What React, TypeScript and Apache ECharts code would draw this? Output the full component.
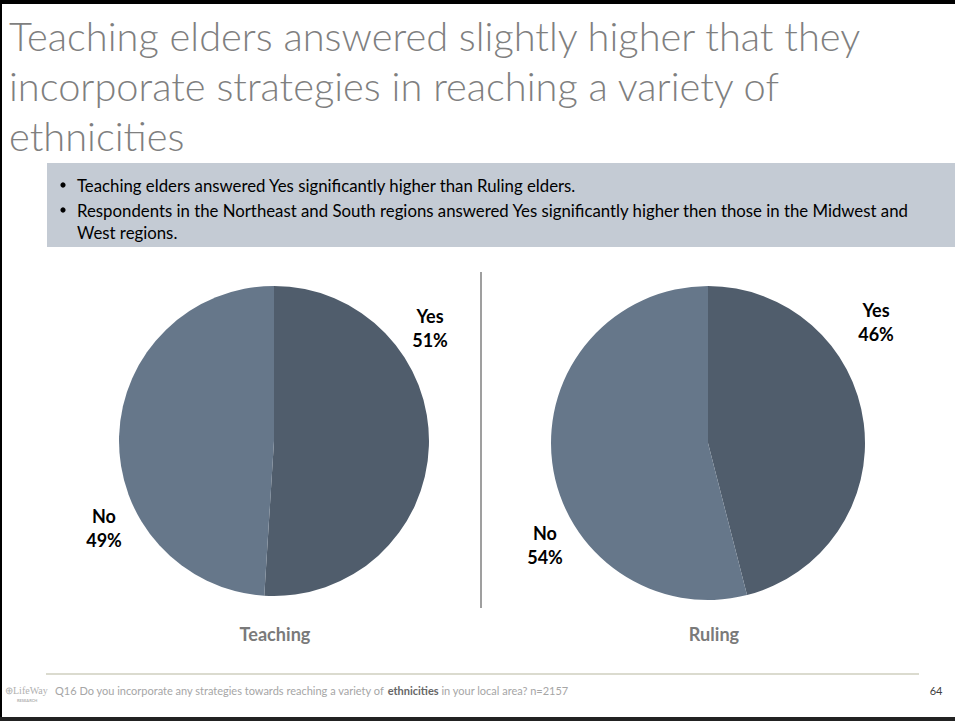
import React, { useEffect, useRef } from "react";
import * as echarts from "echarts";

const titleLines = [
  "Teaching elders answered slightly higher that they",
  "incorporate strategies in reaching a variety of",
  "ethnicities",
];
const bullets = [
  ["Teaching elders answered Yes significantly higher than Ruling elders."],
  [
    "Respondents in the Northeast and South regions answered Yes significantly higher then those in the Midwest and",
    "West regions.",
  ],
];
const answers = ["Yes", "No"];
const groups = ["Teaching", "Ruling"];
const teachingValues = [51, 49];
const rulingValues = [46, 54];
const footerBefore = "Q16 Do you incorporate any strategies towards reaching a variety of ";
const footerBold = "ethnicities";
const footerAfter = " in your local area? n=2157";
const pageNumber = "64";

const FONT = "Lato, 'Open Sans', sans-serif";
const sliceColors = ["#505d6c", "#66778a"];

// label placement (layout, not data)
const labelPos = [
  [
    [430, 328],
    [104, 528],
  ],
  [
    [876, 322],
    [545, 545],
  ],
];
const pieCenters = [
  [274, 441],
  [708, 443],
];
const pieRadii = [155, 157];

function fitSize(text: string, weight: string, target: number): number {
  const c = document.createElement("canvas").getContext("2d")!;
  c.font = `${weight} 100px ${FONT}`;
  const w = c.measureText(text).width;
  return Math.round((100 * target * 10) / w) / 10;
}

export default function App() {
  const ref = useRef<HTMLDivElement>(null);
  useEffect(() => {
    document.body.style.margin = "0";
    const chart = echarts.init(ref.current!, null, { renderer: "svg" });
    const valueSets = [teachingValues, rulingValues];
    const series = valueSets.map((vals, si) => ({
      type: "pie",
      center: pieCenters[si],
      radius: pieRadii[si],
      startAngle: 90,
      clockwise: true,
      silent: true,
      itemStyle: { borderWidth: 0 },
      data: answers.map((a, i) => ({
        name: a,
        value: vals[i],
        itemStyle: { color: sliceColors[i] },
      })),
      label: {
        show: true,
        position: "outside",
        formatter: "{b}\n{c}%",
        fontFamily: FONT,
        fontSize: 18,
        fontWeight: "bold",
        color: "#000",
        lineHeight: 24,
        align: "center",
        overflow: "none",
        width: 60,
      },
      labelLine: { show: false },
      labelLayout: (p: any) => ({
        x: labelPos[si][p.dataIndex][0],
        y: labelPos[si][p.dataIndex][1],
        align: "center",
        verticalAlign: "middle",
      }),
    }));

    const titleSize = Math.min(40, fitSize(titleLines[0], "300", 852));
    const bulletSize = Math.min(18.5, fitSize(bullets[1][0], "normal", 831));
    const footerSize = fitSize(footerBefore + footerBold + footerAfter, "normal", 513);
    const groupSize = Math.min(19, fitSize(groups[0], "bold", 71));

    const graphics: any[] = [];
    // borders
    graphics.push({ type: "rect", shape: { x: 0, y: 0, width: 955, height: 4 }, style: { fill: "#000" } });
    graphics.push({ type: "rect", shape: { x: 0, y: 0, width: 2, height: 721 }, style: { fill: "#000" } });
    graphics.push({ type: "rect", shape: { x: 0, y: 717, width: 955, height: 4 }, style: { fill: "#222" } });
    // title
    titleLines.forEach((t, i) => {
      graphics.push({
        type: "text",
        x: 9,
        y: 35 + i * 50,
        style: {
          text: t,
          font: `300 ${titleSize}px ${FONT}`,
          fill: "#7f7f7f",
          verticalAlign: "middle",
        },
      });
    });
    // bullet box
    graphics.push({
      type: "rect",
      shape: { x: 47, y: 163, width: 908, height: 84 },
      style: { fill: "#c4cbd4" },
    });
    let y = 185;
    bullets.forEach((b) => {
      graphics.push({
        type: "circle",
        shape: { cx: 63, cy: y, r: 2.6 },
        style: { fill: "#000" },
      });
      b.forEach((line, li) => {
        graphics.push({
          type: "text",
          x: 77,
          y: y + li * 22,
          style: { text: line, font: `${bulletSize}px ${FONT}`, fill: "#000", verticalAlign: "middle" },
        });
      });
      y += 25 + (b.length - 1) * 22;
    });
    // divider
    graphics.push({
      type: "line",
      shape: { x1: 481, y1: 272, x2: 481, y2: 608 },
      style: { stroke: "#7f7f7f", lineWidth: 1.5 },
    });
    // group labels
    groups.forEach((g, i) => {
      graphics.push({
        type: "text",
        x: [275, 714][i],
        y: 634,
        style: {
          text: g,
          font: `bold ${groupSize}px ${FONT}`,
          fill: "#7a7a7a",
          align: "center",
          verticalAlign: "middle",
        },
      });
    });
    // footer
    graphics.push({
      type: "line",
      shape: { x1: 46, y1: 674, x2: 919, y2: 674 },
      style: { stroke: "#cfcfbf", lineWidth: 1.5 },
    });
    graphics.push({
      type: "text",
      x: 55,
      y: 690,
      style: {
        text: `{n|${footerBefore}}{b|${footerBold}}{n|${footerAfter}}`,
        verticalAlign: "middle",
        rich: {
          n: { fontFamily: FONT, fontSize: footerSize, fill: "#a6a6a6", color: "#a6a6a6" },
          b: { fontFamily: FONT, fontSize: footerSize, fontWeight: "bold", fill: "#666", color: "#666" },
        },
      },
    });
    graphics.push({
      type: "text",
      x: 936,
      y: 690,
      style: { text: pageNumber, font: `11px ${FONT}`, fill: "#404040", align: "center", verticalAlign: "middle" },
    });
    // logo
    graphics.push({
      type: "text",
      x: 5,
      y: 690,
      style: { text: "⊕LifeWay", font: `10px 'Liberation Serif', serif`, fill: "#b0b0b0", verticalAlign: "middle" },
    });
    graphics.push({
      type: "text",
      x: 17,
      y: 700,
      style: { text: "RESEARCH", font: `bold 4px ${FONT}`, fill: "#b0b0b0", verticalAlign: "middle" },
    });

    chart.setOption({
      animation: false,
      backgroundColor: "#fff",
      series,
      graphic: graphics,
    });
    return () => chart.dispose();
  }, []);
  return <div ref={ref} style={{ width: 955, height: 721 }} />;
}
